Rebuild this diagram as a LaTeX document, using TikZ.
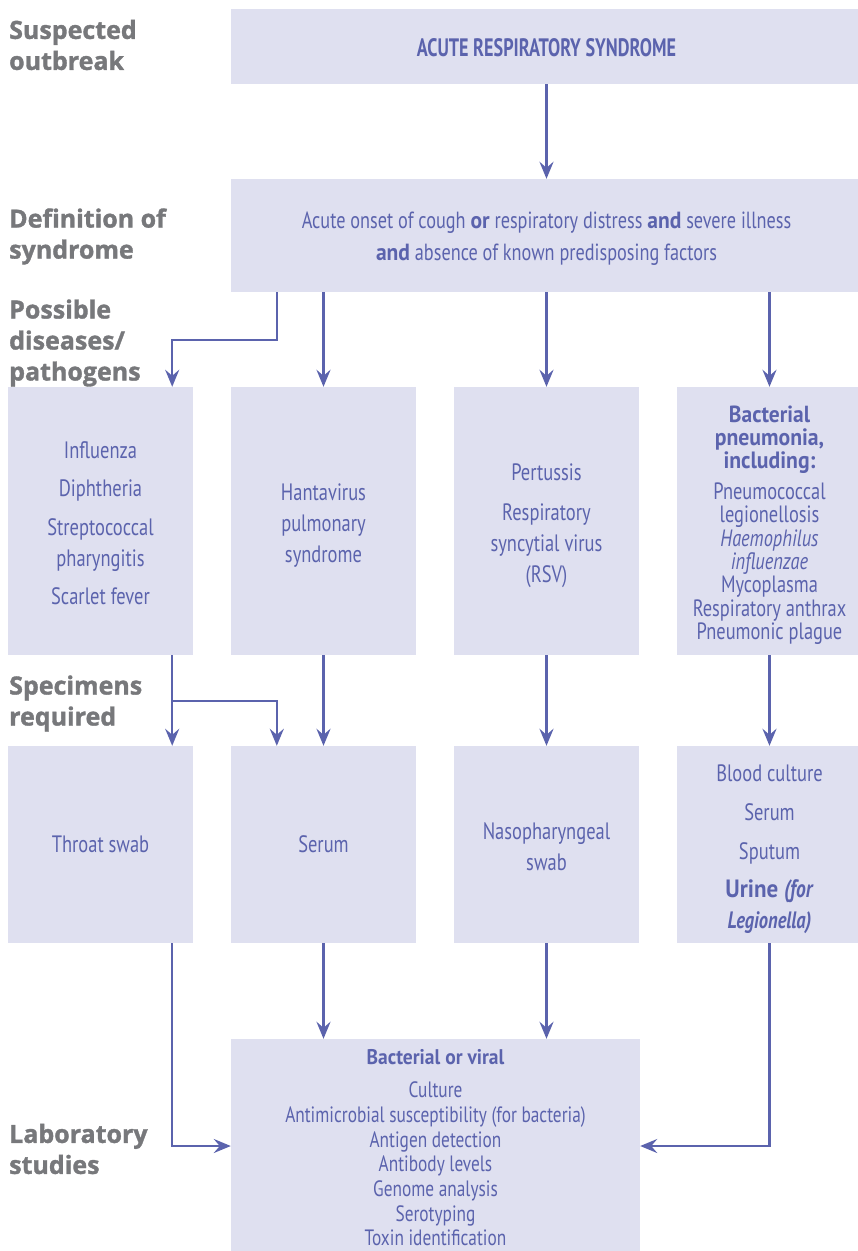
\documentclass[tikz,border=0pt]{standalone}
\usepackage{fontspec}
\setmainfont{PT Sans}
% narrow face for the boxes; bold runs a little wider
\newfontfamily\boxfont[FakeStretch=0.78,BoldFeatures={FakeStretch=0.92}]{PT Sans}
\newfontfamily\capsfont[FakeStretch=0.72]{PT Sans}
\newfontfamily\labfont[BoldFeatures={FakeBold=1.4}]{Open Sans}
\usetikzlibrary{arrows.meta}
\definecolor{boxfill}{HTML}{DFE0F0}
\definecolor{ink}{HTML}{5B63AD}
\definecolor{labgray}{HTML}{77787B}
% keep baselines exactly at the requested spacing
\lineskiplimit=-50pt
\lineskip=0pt
\begin{document}
\begin{tikzpicture}[x=1pt,y=-1pt,
  box/.style={fill=boxfill, inner sep=0pt, minimum width=185pt},
  wide/.style={box, minimum width=631pt},
  row3/.style={box, minimum height=268pt},
  row4/.style={box, minimum height=197pt},
  txt/.style={inner sep=0pt, align=center, text=ink,
    font=\boxfont\fontsize{23.7}{31}\selectfont},
  stage/.style={anchor=west, inner sep=0pt, align=left, text=labgray,
    font=\labfont\bfseries\fontsize{25}{31}\selectfont},
  arr/.style={draw=ink, line width=2.5pt,
    -{Stealth[length=17pt,width=14pt,inset=6pt]}}
]
\useasboundingbox (0,0) rectangle (858,1251);

% stage labels on the left
\node[stage] (l1) at (9,45)     {Suspected\\outbreak};
\node[stage] (l2) at (9,236.5)  {Definition of\\syndrome};
\node[stage] (l3) at (9,343)    {Possible\\diseases/\\pathogens};
\node[stage] (l4) at (9,703.5)  {Specimens\\required};
\node[stage] (l5) at (9,1149)   {Laboratory\\studies};

% boxes
\node[wide, minimum height=75pt]  (top) at (546.5,46.5) {};
\node[wide, minimum height=113pt] (def) at (546.5,235.5) {};
\node[row3] (d1) at (100.5,521) {};
\node[row3] (d2) at (323.5,521) {};
\node[row3] (d3) at (546.5,521) {};
\node[row3] (d4) at (769.5,521) {};
\node[row4] (s1) at (100.5,844.5) {};
\node[row4] (s2) at (323.5,844.5) {};
\node[row4] (s3) at (546.5,844.5) {};
\node[row4] (s4) at (769.5,844.5) {};
\node[box, minimum width=409pt, minimum height=214pt] (lab) at (435.5,1146) {};

% syndrome and definition
\node[txt, font=\capsfont\fontsize{25.2}{30}\selectfont] (topt) at ([yshift=-1.5pt]top.center)
  {\bfseries ACUTE RESPIRATORY SYNDROME};
\node[txt, font=\boxfont\fontsize{23.4}{32}\selectfont] (deft) at ([yshift=-3pt]def.center)
  {Acute onset of cough \textbf{or} respiratory distress \textbf{and} severe illness\\
   \textbf{and} absence of known predisposing factors};

% possible diseases / pathogens
\node[txt] (d1t) at ([yshift=-2pt]d1.center)
  {Influenza\\[7pt] Diphtheria\\[8pt] Streptococcal\\ pharyngitis\\[7pt] Scarlet fever};
\node[txt] (d2t) at ([yshift=-5pt]d2.center)
  {Hantavirus\\ pulmonary\\ syndrome};
\node[txt] (d3t) at ([yshift=-5pt]d3.center)
  {Pertussis\\[9pt] Respiratory\\ syncytial virus\\ (RSV)};
\node[txt, font=\boxfont\fontsize{23.6}{23.3}\selectfont] (d4t) at ([yshift=-4pt]d4.center)
  {\fontsize{23.3}{23.3}\selectfont\textbf{Bacterial}\\ \textbf{pneumonia,}\\ \textbf{including:}\\[7.7pt]
   \fontsize{23.6}{23.2}\selectfont
   Pneumococcal\\ legionellosis\\ \textit{Haemophilus}\\ \textit{influenzae}\\
   Mycoplasma\\ Respiratory anthrax\\ Pneumonic plague};

% specimens required
\node[txt] (s1t) at (s1.center) {Throat swab};
\node[txt] (s2t) at (s2.center) {Serum};
\node[txt] (s3t) at ([yshift=-2pt]s3.center) {Nasopharyngeal\\ swab};
\node[txt] (s4t) at ([yshift=-5pt]s4.center)
  {Blood culture\\[8pt] Serum\\[8pt] Sputum\\[7pt]
   \fontsize{25}{31}\selectfont\textbf{Urine \textit{(for}}\\ \textbf{\textit{Legionella)}}};

% laboratory studies
\node[txt, font=\boxfont\fontsize{22.2}{24.7}\selectfont] (labt) at ([yshift=-2pt]lab.center)
  {\fontsize{21.2}{24.7}\selectfont\textbf{Bacterial or viral}\\[8pt]
   \fontsize{22.2}{24.7}\selectfont Culture\\
   Antimicrobial susceptibility (for bacteria)\\
   Antigen detection\\ Antibody levels\\ Genome analysis\\ Serotyping\\ Toxin identification};

% connectors
\draw[arr] (top) -- (def);
\draw[arr] ([xshift=46pt]def.south west) -- ++(0,48) -| ([xshift=-21pt]d1.north east);
\draw[arr] (def.south -| d2.north) -- (d2.north);
\draw[arr] (def.south -| d3.north) -- (d3.north);
\draw[arr] (def.south -| d4.north) -- (d4.north);

\draw[arr] ([xshift=-21pt]d1.south east) -- ([xshift=-21pt]s1.north east);
\draw[arr] ([xshift=-21pt]d1.south east) ++(0,46) -| ([xshift=46pt]s2.north west);
\draw[arr] (d2) -- (s2);
\draw[arr] (d3) -- (s3);
\draw[arr] (d4) -- (s4);

\draw[arr] ([xshift=-21pt]s1.south east) |- (lab.west);
\draw[arr] (s2.south) -- (s2.south |- lab.north);
\draw[arr] (s3.south) -- (s3.south |- lab.north);
\draw[arr] (s4.south) |- (lab.east);
\end{tikzpicture}
\end{document}
